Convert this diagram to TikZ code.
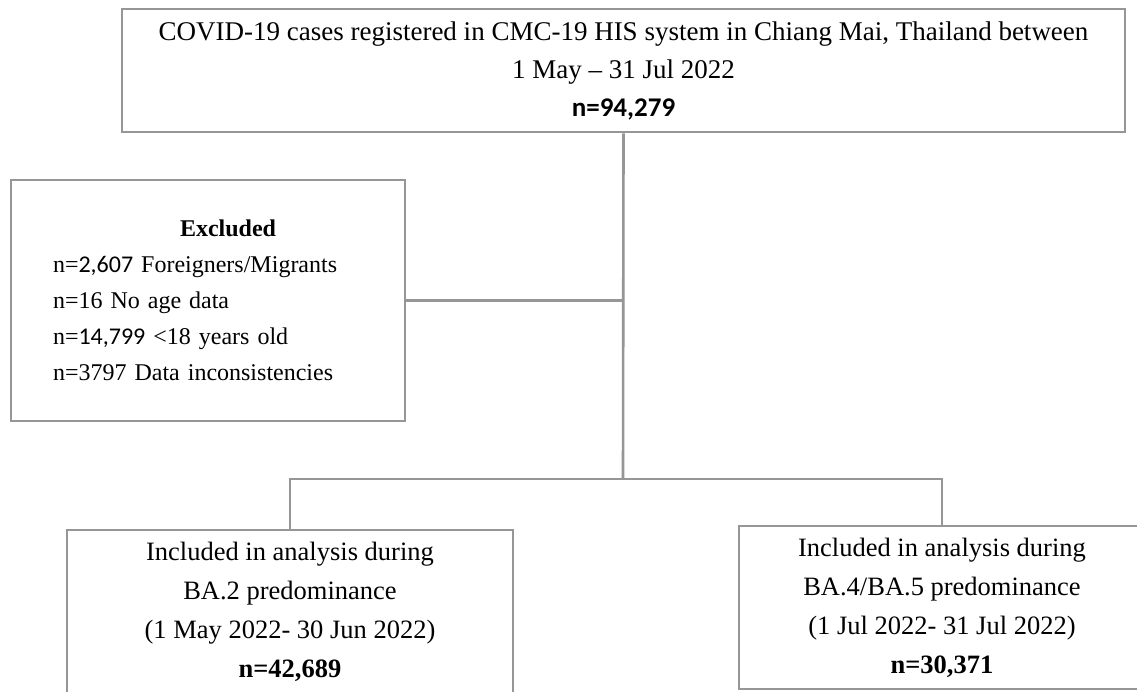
\documentclass[tikz,border=0pt]{standalone}
\usepackage{fontspec}
\setmainfont{Liberation Serif}
\newfontfamily\carl{Carlito}
\definecolor{boxgray}{RGB}{150,150,150}
\begin{document}
\begin{tikzpicture}[x=1pt,y=-1pt,
  boxstyle/.style={draw=boxgray, line width=2.6pt, rectangle, inner sep=0pt, align=center},
  conn/.style={draw=boxgray, line width=2.6pt}]
\clip (0,0) rectangle (1137,691);
\fill[white] (0,0) rectangle (1137,691);

\node[boxstyle, minimum width=1003pt, minimum height=123pt,
      font=\fontsize{27}{38}\selectfont] (top) at (623.5,70.5)
  {COVID-19 cases registered in CMC-19 HIS system in Chiang Mai, Thailand between\\
   1 May -- 31 Jul 2022\\
   {\carl\bfseries n=94,279}};

\node[boxstyle, minimum width=394pt, minimum height=241pt, text width=310pt,
      align=left, font=\fontsize{24}{36}\selectfont] (exc) at (208,300.5)
  {\hspace*{127pt}\textbf{Excluded}\\
   n={\carl 2,607} Foreigners/Migrants\\
   n=16 No age data\\
   n={\carl 14,799} <18 years old\\
   n=3797 Data inconsistencies};

\node[boxstyle, minimum width=446pt, minimum height=163pt,
      font=\fontsize{26.5}{39}\selectfont] (lbox) at (290,611.5)
  {Included in analysis during\\
   BA.2 predominance\\
   (1 May 2022- 30 Jun 2022)\\
   \textbf{n=42,689}};

\node[boxstyle, minimum width=406pt, minimum height=163pt,
      font=\fontsize{26.5}{39}\selectfont] (rbox) at (942,607.5)
  {Included in analysis during\\
   BA.4/BA.5 predominance\\
   (1 Jul 2022- 31 Jul 2022)\\
   \textbf{n=30,371}};

\coordinate (split) at (623,479);
\draw[conn] (top.south) -- (split);
\draw[conn] (exc.east) -- (exc.east -| top.south);
\draw[conn] (lbox.north) |- (split) -| (rbox.north);
\end{tikzpicture}
\end{document}
